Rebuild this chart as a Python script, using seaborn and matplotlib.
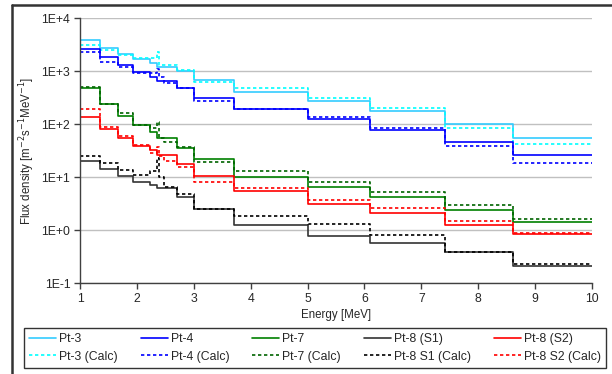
import pandas as pd
import matplotlib.pyplot as plt
import numpy as np
import seaborn as sns
from matplotlib.ticker import FixedLocator, FuncFormatter, NullLocator
from matplotlib.lines import Line2D

# bin edges [MeV]
edges_meas = [1.0, 1.35, 1.66, 1.93, 2.23, 2.36, 2.70, 3.0, 3.71, 5.0, 6.1, 7.42, 8.61, 10.0]
edges_calc = [1.0, 1.35, 1.66, 1.93, 2.23, 2.36, 2.38, 2.48, 2.70, 3.0, 3.71, 5.0, 6.1, 7.42, 8.61, 10.0]

# measured flux per bin
pt3 = [3900, 2720, 2090, 1680, 1410, 1220, 1010, 686, 412, 279, 181, 100, 56]
pt4 = [2600, 1840, 1315, 955, 790, 656, 490, 316, 195, 124, 78, 46, 26]
pt7 = [490, 238, 145, 97, 71, 56, 36, 22, 10.3, 6.5, 4.2, 2.4, 1.42]
pt8_s1 = [20.3, 14.4, 10.7, 8.3, 7.2, 6.2, 4.3, 2.5, 1.26, 0.79, 0.57, 0.385, 0.21]
pt8_s2 = [139, 81, 56, 39, 33, 26, 17.6, 10.7, 5.5, 3.2, 2.1, 1.26, 0.85]

# calculated flux per bin
pt3_calc = [3130, 2510, 2050, 1760, 1760, 2350, 1300, 1315, 1060, 640, 490, 309, 200, 84, 42]
pt4_calc = [2340, 1510, 1220, 916, 916, 1100, 770, 610, 480, 275, 195, 135, 84, 39, 19]
pt7_calc = [500, 238, 161, 97, 86, 112, 55, 47, 37, 19.2, 13.2, 8.3, 5.3, 3.0, 1.61]
pt8_s1_calc = [25, 18.4, 13.7, 11, 13.2, 22.8, 10.3, 6.65, 4.8, 2.5, 1.86, 1.3, 0.81, 0.385, 0.23]
pt8_s2_calc = [192, 90, 60, 41, 29, 38, 25, 20, 15.9, 8.3, 6.3, 3.7, 2.6, 1.5, 0.88]

series = [
    ("Pt-3", edges_meas, pt3, "#33CCFF", "-"),
    ("Pt-3 (Calc)", edges_calc, pt3_calc, "#00FFFF", ":"),
    ("Pt-4", edges_meas, pt4, "#0000FF", "-"),
    ("Pt-4 (Calc)", edges_calc, pt4_calc, "#0000FF", ":"),
    ("Pt-7", edges_meas, pt7, "#008000", "-"),
    ("Pt-7 (Calc)", edges_calc, pt7_calc, "#006400", ":"),
    ("Pt-8 (S1)", edges_meas, pt8_s1, "#333333", "-"),
    ("Pt-8 S1 (Calc)", edges_calc, pt8_s1_calc, "#000000", ":"),
    ("Pt-8 (S2)", edges_meas, pt8_s2, "#FF0000", "-"),
    ("Pt-8 S2 (Calc)", edges_calc, pt8_s2_calc, "#FF0000", ":"),
]

sns.set_style("white")
plt.rcParams['font.family'] = ['Liberation Sans', 'DejaVu Sans']

fig = plt.figure(figsize=(6.12, 3.74), dpi=100)
ax = fig.add_axes([80/612, 1-283.3/374, 512/612, 265/374])

handles = []
for name, edges, vals, col, ls in series:
    df = pd.DataFrame({"E": edges, "flux": list(vals) + [vals[-1]]})
    dash = (0, (2, 1.6)) if ls == ":" else "-"
    sns.lineplot(data=df, x="E", y="flux", ax=ax, color=col, linestyle=dash,
                 lw=1.2, drawstyle="steps-post", estimator=None, sort=False)
    handles.append(Line2D([], [], color=col, linestyle=dash, lw=1.2, label=name))

ax.set_yscale("log")
ax.set_xlim(1, 10)
ax.set_ylim(0.1, 1e4)
ax.xaxis.set_major_locator(FixedLocator(range(1, 11)))
ax.yaxis.set_major_locator(FixedLocator([0.1, 1, 10, 100, 1000, 10000]))
ax.yaxis.set_minor_locator(NullLocator())
ax.yaxis.set_major_formatter(FuncFormatter(lambda v, p: "1E%+d" % int(round(np.log10(v)))))
ax.grid(axis="y", color="#C0C0C0", lw=1)
ax.grid(axis="x", visible=False)
for s in ["top", "right"]:
    ax.spines[s].set_visible(False)
for s in ["left", "bottom"]:
    ax.spines[s].set_color("#404040")
    ax.spines[s].set_linewidth(1)
ax.tick_params(axis="both", which="major", direction="out", length=4, width=1,
               color="#404040", labelsize=8.8, bottom=True, left=True, pad=3)
ax.set_xlabel("Energy [MeV]", fontsize=8.3, labelpad=3)
ax.set_ylabel("Flux density [m$^{-2}$s$^{-1}$MeV$^{-1}$]", fontsize=8.3, labelpad=3)

leg = fig.legend(handles=handles, ncol=5, loc="center", mode="expand",
                 bbox_to_anchor=(24/612, 4/374, 582/612, 44/374),
                 fontsize=8.8, frameon=True, fancybox=False, borderaxespad=0,
                 handlelength=2.2, handletextpad=0.25, columnspacing=0.3,
                 labelspacing=0.45, borderpad=0.4)
leg.get_frame().set_edgecolor("black")
leg.get_frame().set_linewidth(1)

# outer chart frame
fig.add_artist(Line2D([12/612, 1], [1-5/374, 1-5/374], color="#333333", lw=1.8))
fig.add_artist(Line2D([12/612, 12/612], [0, 1-5/374], color="#333333", lw=1.8))

plt.savefig("out.png", dpi=100)
